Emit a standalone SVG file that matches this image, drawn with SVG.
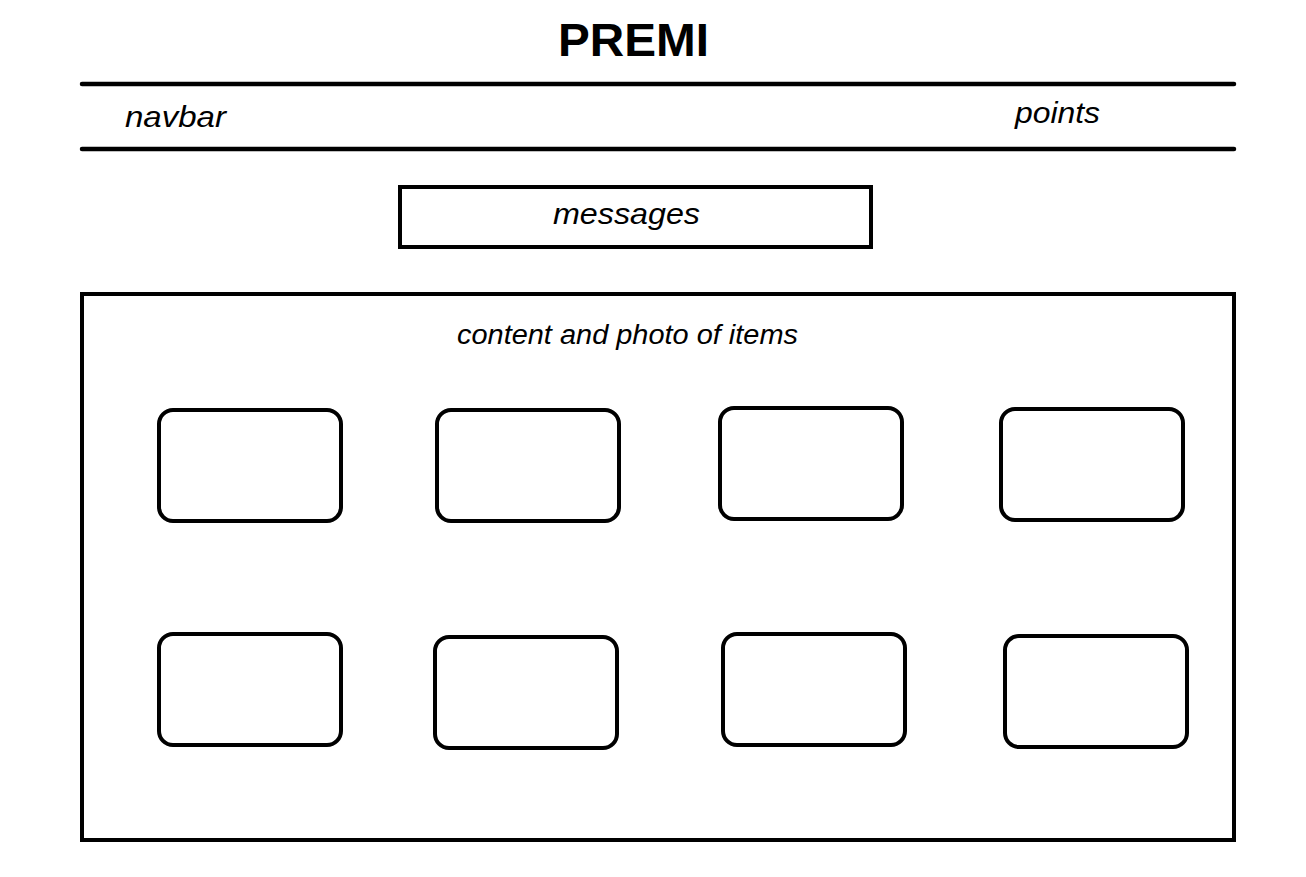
<svg xmlns="http://www.w3.org/2000/svg" width="1306" height="877" viewBox="0 0 1306 877">
<style>
.bg{fill:#ffffff}
.ln{stroke:#000;stroke-width:4.5;stroke-linecap:round;fill:none}
.box{fill:none;stroke:#000;stroke-width:4}
.item{fill:#fff;stroke:#000;stroke-width:4}
.title{font-family:"Liberation Sans",Arial,sans-serif;font-weight:bold;font-size:46px;fill:#000}
.lbl{font-family:"Liberation Sans",Arial,sans-serif;font-style:italic;font-size:30px;fill:#000}
.lbl2{font-family:"Liberation Sans",Arial,sans-serif;font-style:italic;font-size:27px;fill:#000}
</style>
<defs>
<rect id="card" width="182" height="111" rx="14" ry="14"/>
</defs>
<rect class="bg" x="0" y="0" width="1306" height="877"/>
<g id="title"><text class="title" x="558" y="56" textLength="151" lengthAdjust="spacingAndGlyphs">PREMI</text></g>
<g id="navbar">
<line class="ln" x1="82" y1="84" x2="1234" y2="84"/>
<line class="ln" x1="82" y1="149" x2="1234" y2="149"/>
<text class="lbl" x="125" y="127" textLength="101" lengthAdjust="spacingAndGlyphs">navbar</text>
<text id="points" class="lbl" x="1015" y="123" textLength="85" lengthAdjust="spacingAndGlyphs">points</text>
</g>
<g id="messages">
<rect class="box" x="400" y="187" width="471" height="60"/>
<text class="lbl" x="553" y="224" textLength="147" lengthAdjust="spacingAndGlyphs">messages</text>
</g>
<g id="content">
<rect class="box" x="82" y="294" width="1152" height="546"/>
<text class="lbl2" x="457" y="344" textLength="341" lengthAdjust="spacingAndGlyphs">content and photo of items</text>
</g>
<g id="item1"><use href="#card" class="item" x="159" y="410"/></g>
<g id="item2"><use href="#card" class="item" x="437" y="410"/></g>
<g id="item3"><use href="#card" class="item" x="720" y="408"/></g>
<g id="item4"><use href="#card" class="item" x="1001" y="409"/></g>
<g id="item5"><use href="#card" class="item" x="159" y="634"/></g>
<g id="item6"><use href="#card" class="item" x="435" y="637"/></g>
<g id="item7"><use href="#card" class="item" x="723" y="634"/></g>
<g id="item8"><use href="#card" class="item" x="1005" y="636"/></g>
<g id="connectors"></g>
</svg>
